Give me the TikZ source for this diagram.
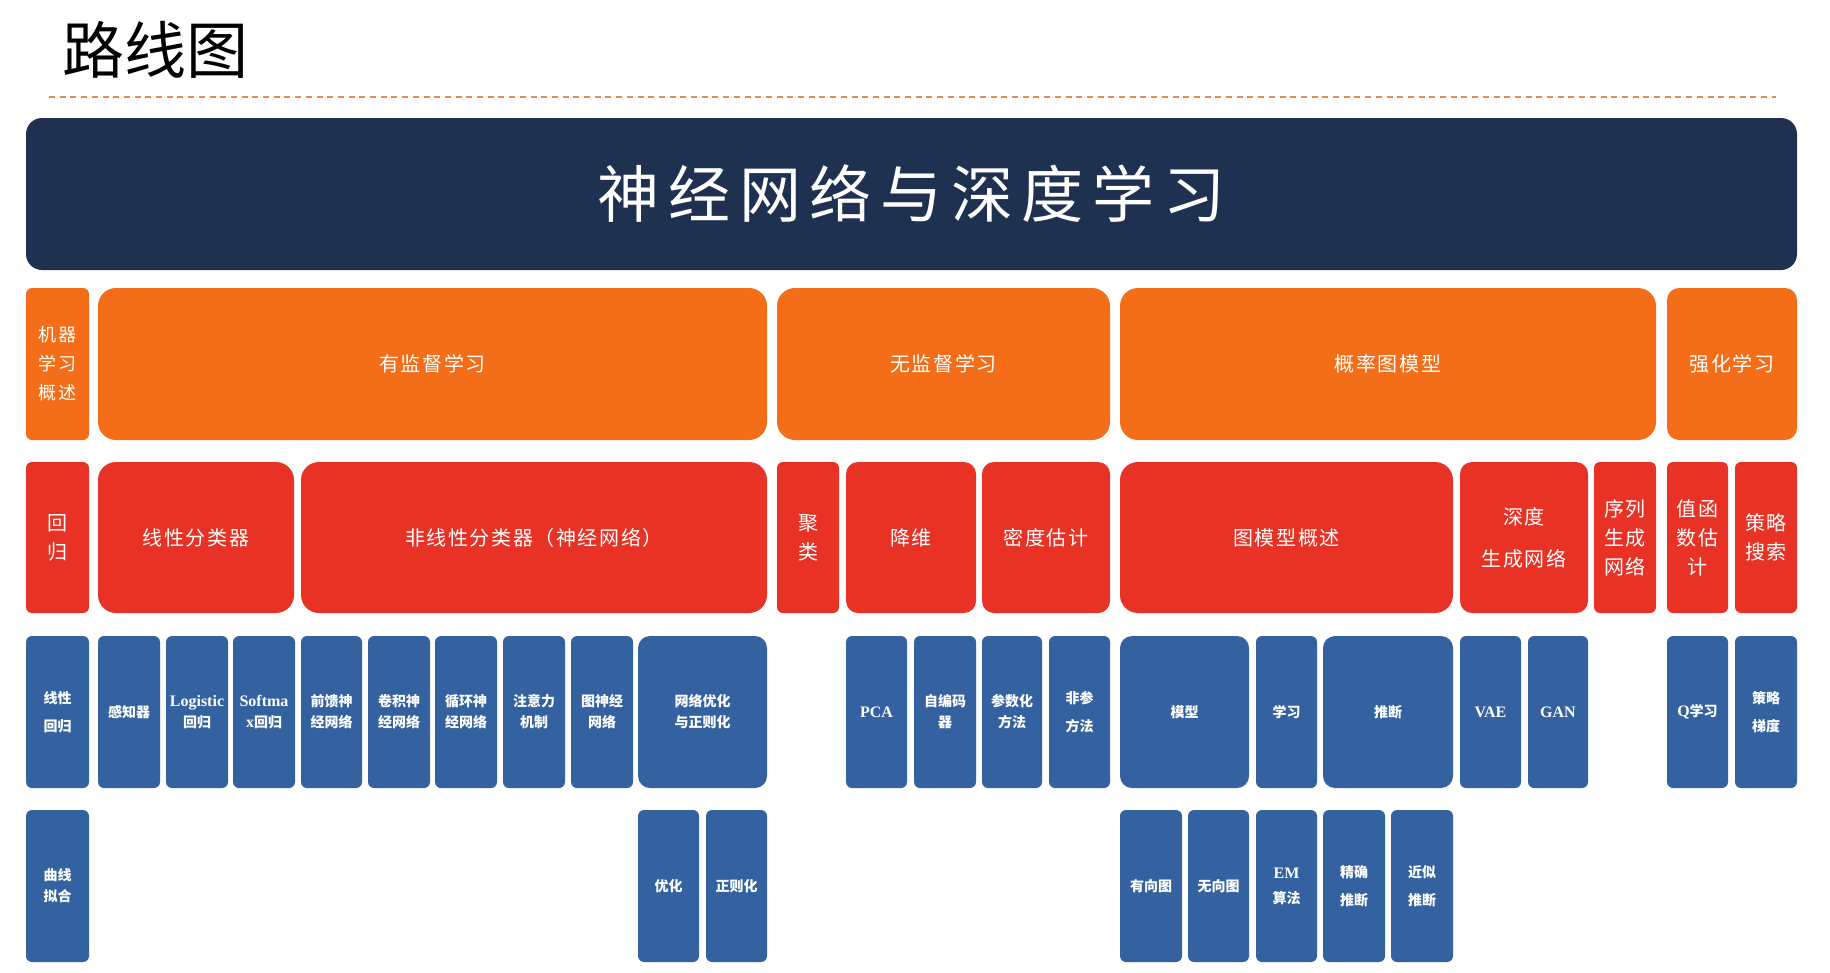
\documentclass[tikz,border=0pt]{standalone}
\usepackage{fontspec}
\setmainfont{Liberation Serif}
\newfontfamily\cjk{Noto Sans CJK SC}
\newfontfamily\cjkmid[LetterSpace=8]{Noto Sans CJK SC}
\newfontfamily\cjkban[LetterSpace=14]{Noto Sans CJK SC}
\newcommand\lat[1]{{\rmfamily\fontsize{16}{21}\selectfont #1}}
\definecolor{navyC}{RGB}{30,49,80}
\definecolor{orangeC}{RGB}{244,110,26}
\definecolor{redC}{RGB}{232,50,38}
\definecolor{blueC}{RGB}{52,98,160}
\definecolor{dashC}{RGB}{230,140,80}
\tikzset{
  box/.style={rectangle, draw=none, inner sep=0pt, outer sep=0pt, anchor=north west, align=center, text=white},
  rn/.style={rounded corners=6pt},
  rm/.style={rounded corners=12pt},
  rw/.style={rounded corners=18pt},
  ora/.style={fill=orangeC, font=\cjkmid\fontsize{20}{29}\selectfont},
  redb/.style={fill=redC, font=\cjkmid\fontsize{20}{29}\selectfont},
  blu/.style={fill=blueC, font=\cjk\bfseries\fontsize{14}{21}\selectfont},
  dashline/.style={draw=dashC, line width=1.5pt, dash pattern=on 6pt off 4.7pt},
}
\newcommand\bx[7]{\node[box,#6,minimum width=#4pt,minimum height=#5pt] (#1) at (#2,#3) {#7};}
\begin{document}
\begin{tikzpicture}[x=1pt,y=-1pt]
\useasboundingbox (0,0) rectangle (1830,972);
% title
\node[anchor=west, inner sep=0pt, font=\cjk\fontsize{62}{62}\selectfont] (title) at (62,50) {路线图};
\coordinate (dl) at (49,97);
\coordinate (dr) at (1776,97);
\draw[dashline] (dl) -- (dr);
% banner
\node[box, fill=navyC, rounded corners=16pt, minimum width=1771pt, minimum height=152pt,
  font=\cjkban\fontsize{62}{62}\selectfont] (banner) at (26,118) {神经网络与深度学习};
% row 1
\bx{a1}{26}{288}{63}{152}{ora,rn,font=\cjkmid\fontsize{18}{29}\selectfont}{机器\\学习\\概述}
\bx{a2}{98}{288}{669}{152}{ora,rw}{有监督学习}
\bx{a3}{777}{288}{333}{152}{ora,rw}{无监督学习}
\bx{a4}{1120}{288}{536}{152}{ora,rw}{概率图模型}
\bx{a5}{1667}{288}{130}{152}{ora,rm}{强化学习}
% row 2
\bx{b1}{26}{462}{63}{151}{redb,rn}{回\\归}
\bx{b2}{98}{462}{196}{151}{redb,rw}{线性分类器}
\bx{b3}{301}{462}{466}{151}{redb,rw}{非线性分类器（神经网络）}
\bx{b4}{777}{462}{62}{151}{redb,rn}{聚\\类}
\bx{b5}{846}{462}{130}{151}{redb,rm}{降维}
\bx{b6}{982}{462}{128}{151}{redb,rm}{密度估计}
\bx{b7}{1120}{462}{333}{151}{redb,rw}{图模型概述}
\bx{b8}{1460}{462}{128}{151}{redb,rm}{深度\\[13pt]生成网络}
\bx{b9}{1594}{462}{62}{151}{redb,rn}{序列\\生成\\网络}
\bx{b10}{1667}{462}{61}{151}{redb,rn}{值函\\数估\\计}
\bx{b11}{1735}{462}{62}{151}{redb,rn}{策略\\搜索}
% row 3
\bx{c1}{26}{636}{63}{152}{blu,rn}{线性\\[7pt]回归}
\bx{c2}{98}{636}{62}{152}{blu,rn}{感知器}
\bx{c3}{166}{636}{62}{152}{blu,rn}{\lat{Logistic}\\回归}
\bx{c4}{233}{636}{62}{152}{blu,rn}{\lat{Softma}\\\lat{x}回归}
\bx{c5}{301}{636}{61}{152}{blu,rn}{前馈神\\经网络}
\bx{c6}{368}{636}{62}{152}{blu,rn}{卷积神\\经网络}
\bx{c7}{435}{636}{62}{152}{blu,rn}{循环神\\经网络}
\bx{c8}{503}{636}{62}{152}{blu,rn}{注意力\\机制}
\bx{c9}{571}{636}{62}{152}{blu,rn}{图神经\\网络}
\bx{c10}{638}{636}{129}{152}{blu,rm}{网络优化\\与正则化}
\bx{c11}{846}{636}{61}{152}{blu,rn}{\lat{PCA}}
\bx{c12}{914}{636}{62}{152}{blu,rn}{自编码\\器}
\bx{c13}{982}{636}{60}{152}{blu,rn}{参数化\\方法}
\bx{c14}{1049}{636}{61}{152}{blu,rn}{非参\\[7pt]方法}
\bx{c15}{1120}{636}{129}{152}{blu,rm}{模型}
\bx{c16}{1256}{636}{61}{152}{blu,rn}{学习}
\bx{c17}{1323}{636}{130}{152}{blu,rm}{推断}
\bx{c18}{1460}{636}{61}{152}{blu,rn}{\lat{VAE}}
\bx{c19}{1528}{636}{60}{152}{blu,rn}{\lat{GAN}}
\bx{c20}{1667}{636}{61}{152}{blu,rn}{\lat{Q}学习}
\bx{c21}{1735}{636}{62}{152}{blu,rn}{策略\\[7pt]梯度}
% row 4
\bx{d1}{26}{810}{63}{152}{blu,rn}{曲线\\拟合}
\bx{d2}{638}{810}{61}{152}{blu,rn}{优化}
\bx{d3}{706}{810}{61}{152}{blu,rn}{正则化}
\bx{d4}{1120}{810}{62}{152}{blu,rn}{有向图}
\bx{d5}{1188}{810}{61}{152}{blu,rn}{无向图}
\bx{d6}{1256}{810}{61}{152}{blu,rn}{\lat{EM}\\[4pt]算法}
\bx{d7}{1323}{810}{62}{152}{blu,rn}{精确\\[7pt]推断}
\bx{d8}{1391}{810}{62}{152}{blu,rn}{近似\\[7pt]推断}
\end{tikzpicture}
\end{document}
